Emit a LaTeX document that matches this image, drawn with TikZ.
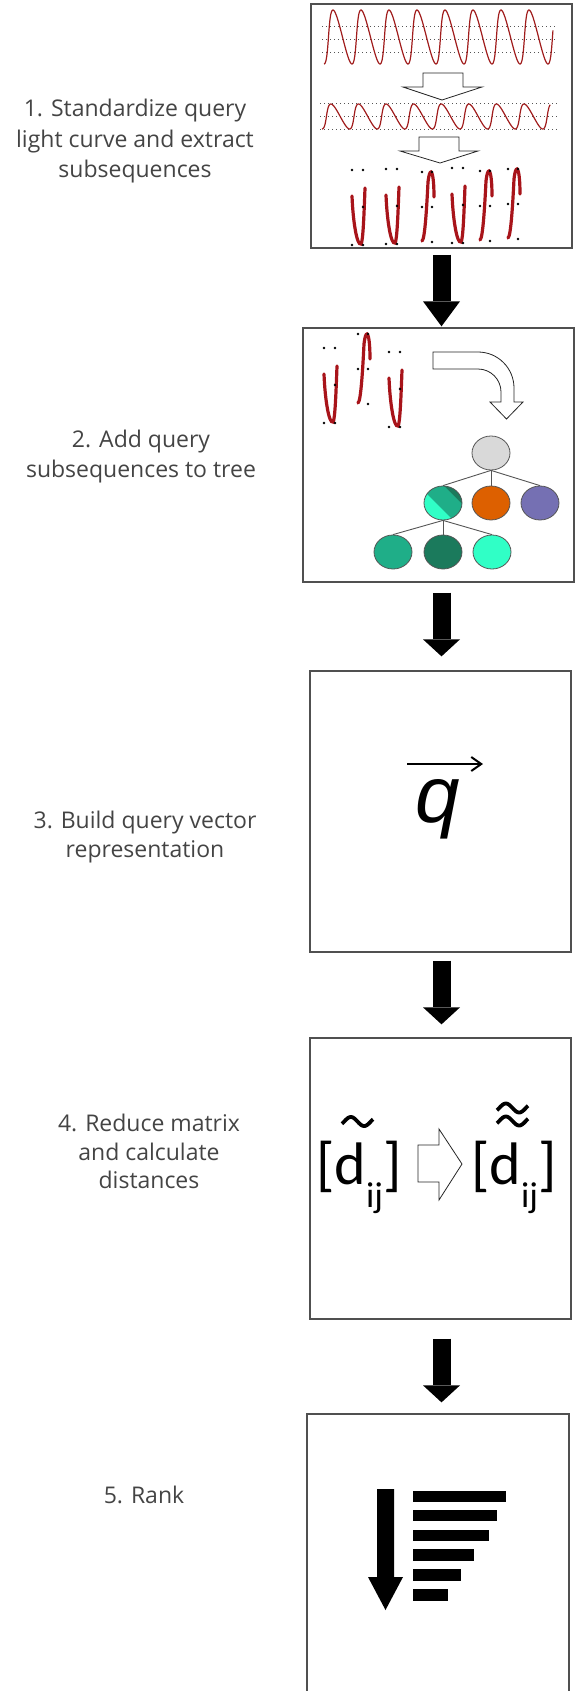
\documentclass[tikz,border=0pt]{standalone}
\usepackage{fontspec}
\setmainfont{Open Sans}
\newfontfamily\qfont{Liberation Sans}
\newfontfamily\dfont{Carlito}
\usetikzlibrary{arrows.meta,shapes.geometric}
\definecolor{boxgray}{HTML}{505050}
\definecolor{wavered}{HTML}{A01C1C}
\definecolor{subred}{HTML}{A8141A}
\definecolor{textgray}{HTML}{444444}
\definecolor{dotgray}{HTML}{555555}
\definecolor{rootgray}{HTML}{D9D9D9}
\definecolor{treeline}{HTML}{555555}
\definecolor{tealmid}{HTML}{1FAE88}
\definecolor{tealdark}{HTML}{1B7A5C}
\definecolor{tealbright}{HTML}{30FFC6}
\definecolor{orangec}{HTML}{DD6000}
\definecolor{purplec}{HTML}{7570B3}
\tikzset{
  box/.style={draw=boxgray, line width=1.3pt, inner sep=0pt},
  fat/.style={line width=18pt, -{Triangle[width=37pt,length=#1,line width=0pt]}},
  lbl/.style={font=\fontsize{23}{23}\selectfont, text=textgray, inner sep=0pt, anchor=base},
  wave/.style={draw=wavered, line width=1.2pt},
  dotline/.style={draw=dotgray, dash pattern=on 1pt off 3pt, line width=0.9pt},
  sub/.style={draw=subred, line width=3.2pt, line cap=round},
  hollow/.style={draw=black!85, line width=0.8pt, fill=white, line join=miter},
  tnode/.style={ellipse, draw=treeline, line width=0.8pt, minimum width=38pt, minimum height=34pt, inner sep=0pt},
  edge/.style={draw=treeline, line width=0.9pt},
  tilde/.style={draw=black, line width=3.8pt},
  dnode/.style={font=\dfont\fontsize{60}{60}\selectfont, inner sep=0pt, anchor=base west},
  vglyph/.pic={
    \draw[sub] (0,26) .. controls (1,52) and (5,76) .. (9,74) .. controls (11,72) and (12,45) .. (13,18);
    \fill[black] (0,0) circle (1.3) (11,0) circle (1.3) (11,37) circle (1.3) (0,75) circle (1.3) (11,75) circle (1.3);
  },
  sglyph/.pic={
    \draw[sub] (0,69) .. controls (3,68) and (5,30) .. (6,10) .. controls (7,2) and (8,0) .. (9,0) .. controls (11,1) and (12,12) .. (12,25);
    \fill[black] (0,0) circle (1.3) (10,0) circle (1.3) (0,35) circle (1.3) (10,35) circle (1.3) (10,70) circle (1.3);
  }
}
\begin{document}
\begin{tikzpicture}[x=1pt,y=-1pt]
\useasboundingbox (0,0) rectangle (579,1691);
\clip (0,0) rectangle (579,1691);

% boxes
\node[box, minimum width=261pt, minimum height=244pt] (b1) at (441.5,126) {};
\node[box, minimum width=271pt, minimum height=254pt] (b2) at (438.5,455) {};
\node[box, minimum width=261pt, minimum height=281pt] (b3) at (440.5,811.5) {};
\node[box, minimum width=261pt, minimum height=281pt] (b4) at (440.5,1178.5) {};
\node[box, minimum width=262pt, minimum height=290pt] (b5) at (438,1559) {};

% connectors
\draw[fat=25pt, shorten <=6pt, shorten >=1pt] (b1.south) -- (b1.south |- b2.north);
\draw[fat=17pt, shorten <=10pt, shorten >=14pt] (b2.south -| b1.south) -- (b3.north -| b1.south);
\draw[fat=17pt, shorten <=8pt, shorten >=13pt] (b3.south -| b1.south) -- (b4.north -| b1.south);
\draw[fat=17pt, shorten <=19pt, shorten >=11pt] (b4.south -| b1.south) -- (b5.north -| b1.south);

% labels
\node[lbl] (t1a) at (135,117) {1. Standardize query};
\node[lbl] (t1b) at (135,147) {light curve and extract};
\node[lbl] (t1c) at (135,177) {subsequences};
\node[lbl] (t2a) at (141,447) {2. Add query};
\node[lbl] (t2b) at (141,477) {subsequences to tree};
\node[lbl] (t3a) at (145,828) {3. Build query vector};
\node[lbl] (t3b) at (145,857) {representation};
\node[lbl] (t4a) at (149,1131) {4. Reduce matrix};
\node[lbl] (t4b) at (149,1160) {and calculate};
\node[lbl] (t4c) at (149,1188) {distances};
\node[lbl] (t5a) at (144,1503) {5. Rank};

% box 1: light curves
\foreach \yy in {26,39,52} \draw[dotline] (322,\yy) -- (557,\yy);
\draw[wave] plot[domain=0:2984, samples=500, variable=\t] ({324 + 28/360*(\t - 32.4*(1-cos(\t)))}, {37 + 27*cos(\t)});
\foreach \yy in {103,116.5,129} \draw[dotline] (320,\yy) -- (557,\yy);
\draw[wave] plot[domain=0:3040, samples=500, variable=\t] ({322 + 27.6/360*(\t - 32.4*(1-cos(\t)))}, {116.5 + 12.5*cos(\t)});
\draw[hollow] (423,73) -- (463,73) -- (463,87) -- (482,87) -- (442,100) -- (403,87) -- (423,87) -- cycle;
\draw[hollow] (419,137) -- (459,137) -- (459,151) -- (478,151) -- (440,163) -- (400,151) -- (419,151) -- cycle;
\pic at (352,170) {vglyph};
\pic at (386,169) {vglyph};
\pic at (422,172) {sglyph};
\pic at (452,168) {vglyph};
\pic at (480,171) {sglyph};
\pic at (508,169) {sglyph};

% box 2
\pic at (324,348) {vglyph};
\pic at (358,334) {sglyph};
\pic at (389,352) {vglyph};
\draw[hollow] (433,352) -- (478,352) arc[start angle=-90, end angle=0, radius=36] -- (514,402) -- (523,402) -- (506.5,419) -- (490,402) -- (501,402) -- (501,392) arc[start angle=0, end angle=-90, radius=23] -- (433,369) -- cycle;
\begin{scope}
  \clip (443,503) ellipse [x radius=19, y radius=17];
  \fill[tealbright] (413,473) rectangle (473,533);
  \fill[tealmid] (431,473) -- (491,533) -- (466,533) -- (406,473) -- cycle;
  \fill[tealdark] (431,473) -- (491,533) -- (491,473) -- cycle;
\end{scope}
\node[tnode, fill=rootgray] (root) at (491,453) {};
\node[tnode] (c1) at (443,503) {};
\node[tnode, fill=orangec] (c2) at (491,503) {};
\node[tnode, fill=purplec] (c3) at (540,503) {};
\node[tnode, fill=tealmid] (g1) at (393,552) {};
\node[tnode, fill=tealdark] (g2) at (443,552) {};
\node[tnode, fill=tealbright] (g3) at (492,552) {};
\draw[edge] (root.south) -- (c1.north);
\draw[edge] (root.south) -- (c2.north);
\draw[edge] (root.south) -- (c3.north);
\draw[edge] (c1.south) -- (g1.north);
\draw[edge] (c1.south) -- (g2.north);
\draw[edge] (c1.south) -- (g3.north);

% box 3
\node[font=\qfont\itshape\fontsize{80}{80}\selectfont, inner sep=0pt, anchor=base] (q) at (438,822) {q};
\coordinate (qa) at (407,764);
\coordinate (qb) at (483,764);
\draw[line width=2pt, -{Straight Barb[length=10pt,width=14pt]}] (qa) -- (qb);

% box 4
\node[dnode] (dl) at (316,1184) {[d\raisebox{-23pt}{\fontsize{36}{36}\selectfont ij}]};
\node[dnode] (dr) at (471,1184) {[d\raisebox{-23pt}{\fontsize{36}{36}\selectfont ij}]};
\draw[tilde] plot[domain=-30:390, samples=40, variable=\t] ({342 + 31*(\t+30)/420}, {1121.5 - 4.5*sin(\t)});
\draw[tilde] plot[domain=-30:390, samples=40, variable=\t] ({497 + 31*(\t+30)/420}, {1108 - 4.5*sin(\t)});
\draw[tilde] plot[domain=-30:390, samples=40, variable=\t] ({497 + 31*(\t+30)/420}, {1121 - 4.5*sin(\t)});
\draw[hollow] (418,1145) -- (439,1145) -- (439,1129) -- (462,1164) -- (439,1200) -- (439,1182) -- (418,1182) -- cycle;

% box 5
\fill[black] (377,1489) -- (394,1489) -- (394,1577) -- (403,1577) -- (385.5,1610) -- (368,1577) -- (377,1577) -- cycle;
\fill[black] (413,1491) rectangle (506,1502);
\fill[black] (413,1510) rectangle (497,1521);
\fill[black] (413,1530) rectangle (489,1541);
\fill[black] (413,1549) rectangle (474,1561);
\fill[black] (413,1569) rectangle (461,1581);
\fill[black] (413,1589) rectangle (448,1601);
\end{tikzpicture}
\end{document}
